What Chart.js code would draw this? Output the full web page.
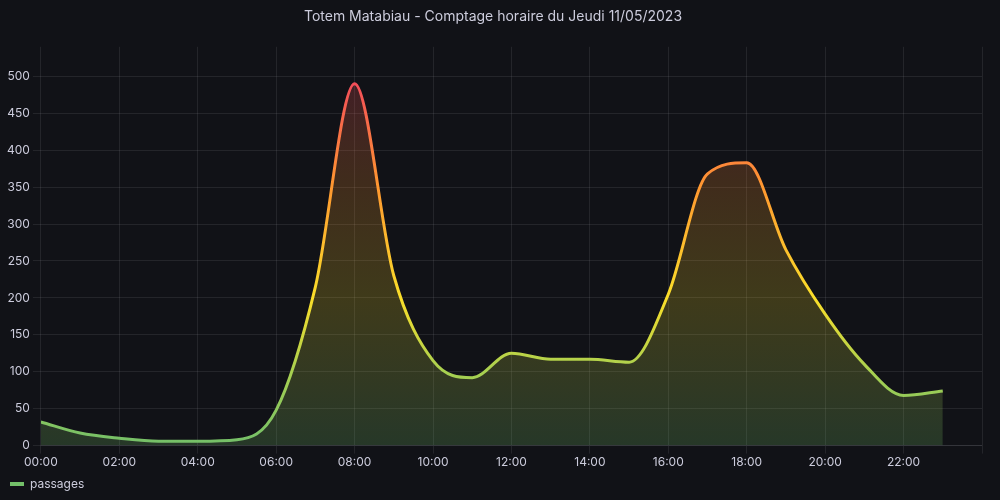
<!DOCTYPE html>
<html><head><meta charset="utf-8">
<script src="https://cdn.jsdelivr.net/npm/chart.js@4"></script>
<style>html,body{margin:0;background:#111217;}#w{width:1000px;height:500px;}</style>
</head><body><div id="w"><canvas id="c"></canvas></div>
<script>
const hours = [0,1,2,3,4,5,6,7,8,9,10,11,12,13,14,15,16,17,18,19,20,21,22,23];
const passages = [32,17,10,6,6,8,48,215,490,230,115,92,125,117,117,113,205,368,383,265,178,110,68,74];
const yTicks = [0,50,100,150,200,250,300,350,400,450,500];

function grad(ctx, chart, fill){
  const a = chart.chartArea; if(!a) return null;
  const y = chart.scales.y;
  const g = ctx.createLinearGradient(0, y.getPixelForValue(0), 0, y.getPixelForValue(500));
  if(fill){
    g.addColorStop(0,'rgba(115,191,105,0.22)');
    g.addColorStop(0.4,'rgba(250,222,42,0.2)');
    g.addColorStop(0.7,'rgba(255,152,48,0.2)');
    g.addColorStop(1,'rgba(242,73,92,0.22)');
  } else {
    g.addColorStop(0,'#73bf69');
    g.addColorStop(0.2,'#a8d050');
    g.addColorStop(0.4,'#fade2a');
    g.addColorStop(0.7,'#ff9830');
    g.addColorStop(1,'#f2495c');
  }
  return g;
}
Chart.defaults.font.family = 'Inter, sans-serif';
new Chart(document.getElementById('c'), {
  type:'line',
  data:{datasets:[{label:'passages',
    data: hours.map((h,i)=>({x:h,y:passages[i]})),
    borderWidth:3, pointRadius:0, cubicInterpolationMode:'monotone', fill:true,
    borderColor: c=>grad(c.chart.ctx,c.chart,false),
    backgroundColor: c=>grad(c.chart.ctx,c.chart,true)}]},
  options:{responsive:true,maintainAspectRatio:false,animation:false,
    layout:{padding:{left:4,right:18,top:0,bottom:0}},
    plugins:{
      title:{display:true,text:'Totem Matabiau - Comptage horaire du Jeudi 11/05/2023',color:'#ccccdc',font:{size:14,weight:'normal'},padding:{top:8,bottom:22}},
      legend:{position:'bottom',align:'start',labels:{color:'#ccccdc',font:{size:12},boxWidth:14,boxHeight:4,padding:6,
        generateLabels:()=>[{text:'passages',fillStyle:'#73bf69',strokeStyle:'#73bf69',lineWidth:0,fontColor:'#ccccdc'}]}},
      tooltip:{enabled:false}},
    scales:{
      x:{type:'linear',min:0,max:24,
        ticks:{stepSize:2,color:'#ccccdc',font:{size:12},maxRotation:0,padding:2,
          callback:v=>v>=24?'':String(v).padStart(2,'0')+':00'},
        grid:{color:'rgba(204,204,220,0.1)'},border:{color:'rgba(204,204,220,0.1)'}},
      y:{min:0,max:540,
        afterBuildTicks:s=>{s.ticks=yTicks.map(v=>({value:v}));},
        ticks:{color:'#ccccdc',font:{size:12}},
        grid:{color:'rgba(204,204,220,0.1)'},border:{display:false}}
    }}
});
</script></body></html>
